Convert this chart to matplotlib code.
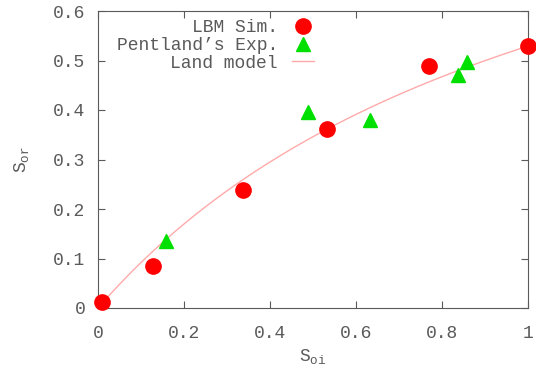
import numpy as np
import matplotlib
matplotlib.use("Agg")
import matplotlib.pyplot as plt

plt.rcParams['font.family'] = ['Liberation Mono', 'DejaVu Sans Mono']
plt.rcParams['mathtext.fontset'] = 'custom'
plt.rcParams['mathtext.rm'] = 'Liberation Mono'
plt.rcParams['mathtext.it'] = 'Liberation Mono'

# LBM simulation
lbm_soi = [0.01, 0.128, 0.337, 0.533, 0.77, 1.0]
lbm_sor = [0.012, 0.085, 0.238, 0.362, 0.489, 0.529]

# Pentland's experiment
exp_soi = [0.158, 0.488, 0.633, 0.837, 0.858]
exp_sor = [0.135, 0.396, 0.38, 0.471, 0.497]

# Land model constant
C = 0.89
s = np.linspace(0.01, 1.0, 200)
land = s / (1 + C * s)

gray = '#5a5a5a'
fig = plt.figure(figsize=(5.36, 3.70), dpi=100)
ax = fig.add_axes([98/536, 1-308/370, 430/536, 297/370])

ax.plot(lbm_soi, lbm_sor, 'o', color='#ff0000', ms=11, label='LBM Sim.', clip_on=False, zorder=3)
ax.plot(exp_soi, exp_sor, '^', color='#00e000', ms=10, label="Pentland\u2019s Exp.", clip_on=False, zorder=3)
ax.plot(s, land, '-', color='#ffaaaa', lw=1, label='Land model')

ax.set_xlim(0, 1)
ax.set_ylim(0, 0.6)
ax.set_xticks([0, 0.2, 0.4, 0.6, 0.8, 1])
ax.set_xticklabels(['0', '0.2', '0.4', '0.6', '0.8', '1'])
ax.set_yticks([0, 0.1, 0.2, 0.3, 0.4, 0.5, 0.6])
ax.set_yticklabels(['0', '0.1', '0.2', '0.3', '0.4', '0.5', '0.6'])
ax.tick_params(direction='in', top=True, right=True, length=5, colors=gray,
               labelsize=13, labelcolor=gray)
ax.tick_params(axis='x', pad=12)
ax.tick_params(axis='y', pad=9)
for sp in ax.spines.values():
    sp.set_color(gray)

ax.set_xlabel('$\\mathrm{S_{oi}}$', color=gray, fontsize=13, labelpad=4)
ax.set_ylabel('$\\mathrm{S_{or}}$', color=gray, fontsize=13, labelpad=16)

leg = ax.legend(loc='upper right', bbox_to_anchor=(314/536, 1-19/370),
                bbox_transform=fig.transFigure, markerfirst=False,
                frameon=False, fontsize=13, labelspacing=0.05, handlelength=1.2,
                handletextpad=0.8, borderaxespad=0, borderpad=0)
for t in leg.get_texts():
    t.set_color(gray)
    t.set_ha('right')

fig.savefig('out.png', dpi=100)
